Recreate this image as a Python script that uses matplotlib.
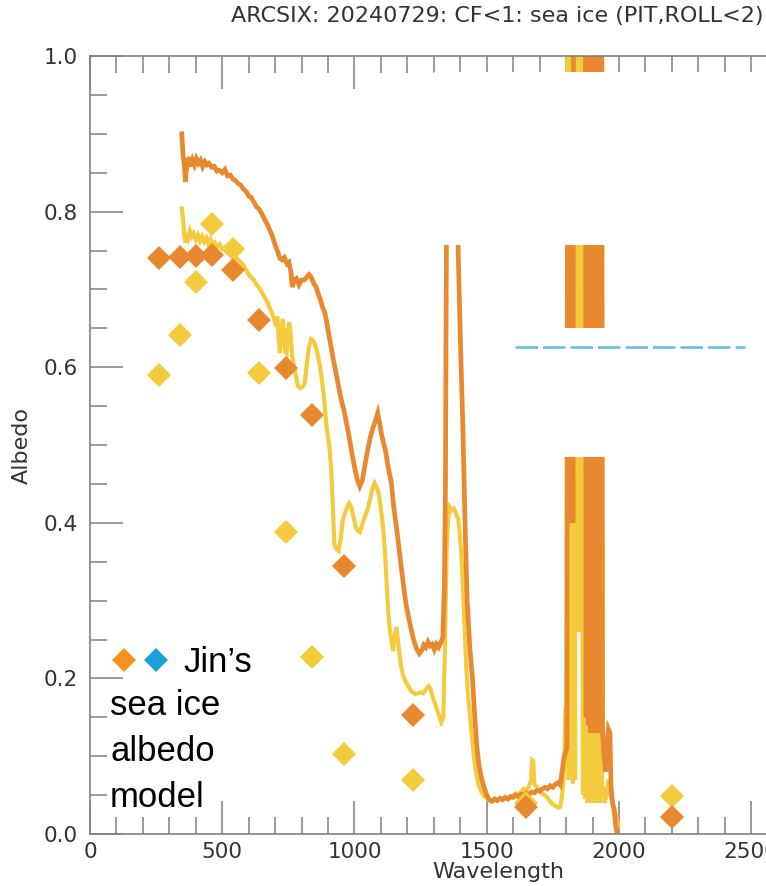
import matplotlib
matplotlib.use("Agg")
import matplotlib.pyplot as plt
from matplotlib.patches import Rectangle
from matplotlib.ticker import MultipleLocator

# ---- measured spectral albedo, upper spectrum ----
wl_upper = [347, 352, 357, 361, 365, 370, 376, 382, 388, 395,
            402, 410, 418, 426, 434, 442, 450, 460, 470, 480,
            490, 500, 510, 520, 530, 540, 550, 560, 570, 580,
            590, 600, 610, 620, 630, 640, 650, 660, 670, 680,
            690, 700, 710, 718, 726, 735, 745, 752, 760, 765,
            772, 780, 790, 800, 810, 820, 828, 836, 845, 855,
            865, 872, 880, 888, 896, 904, 912, 920, 930, 940,
            950, 960, 970, 980, 990, 1000, 1010, 1020, 1030, 1040,
            1050, 1060, 1070, 1080, 1088, 1095, 1102, 1110, 1118, 1125,
            1133, 1140, 1148, 1155, 1162, 1170, 1178, 1186, 1195, 1205,
            1215, 1225, 1235, 1245, 1255, 1262, 1270, 1278, 1286, 1294,
            1302, 1310, 1318, 1326, 1334, 1340, 1344, 1348, 1352, 1360,
            1368, 1378, 1390, 1400, 1410, 1418, 1426, 1436, 1446, 1455,
            1462, 1470, 1480, 1490, 1500, 1510, 1520, 1530, 1540, 1550,
            1560, 1570, 1580, 1590, 1600, 1610, 1620, 1630, 1640, 1650,
            1660, 1670, 1680, 1690, 1700, 1710, 1720, 1730, 1740, 1750,
            1760, 1770, 1778, 1785, 1792, 1798, 1803, 1806, 1810, 1814,
            1818, 1822, 1826, 1830, 1872, 1876, 1880, 1884, 1888, 1892,
            1896, 1900, 1904, 1908, 1912, 1916, 1920, 1924, 1928, 1932,
            1934, 1938, 1944, 1950, 1956, 1960, 1966, 1970, 1976, 1982,
            1988, 1994, 1998]
alb_upper = [0.900, 0.872, 0.858, 0.838, 0.868, 0.862, 0.870, 0.858, 0.866, 0.860,
             0.868, 0.862, 0.866, 0.858, 0.864, 0.860, 0.862, 0.857, 0.858, 0.852,
             0.853, 0.850, 0.854, 0.846, 0.847, 0.842, 0.840, 0.836, 0.834, 0.829,
             0.826, 0.820, 0.818, 0.812, 0.806, 0.803, 0.797, 0.790, 0.784, 0.776,
             0.768, 0.757, 0.748, 0.740, 0.738, 0.741, 0.733, 0.735, 0.722, 0.703,
             0.712, 0.714, 0.706, 0.712, 0.712, 0.716, 0.719, 0.716, 0.708, 0.703,
             0.692, 0.686, 0.676, 0.670, 0.656, 0.640, 0.625, 0.610, 0.593, 0.575,
             0.558, 0.545, 0.528, 0.510, 0.490, 0.472, 0.456, 0.447, 0.455, 0.475,
             0.494, 0.510, 0.522, 0.532, 0.541, 0.528, 0.514, 0.502, 0.492, 0.476,
             0.462, 0.450, 0.422, 0.404, 0.385, 0.362, 0.340, 0.318, 0.295, 0.278,
             0.262, 0.248, 0.238, 0.232, 0.236, 0.243, 0.240, 0.247, 0.242, 0.244,
             0.237, 0.244, 0.240, 0.246, 0.252, 0.320, 0.450, 0.800, 0.950, 0.950,
             0.950, 0.900, 0.780, 0.640, 0.520, 0.400, 0.300, 0.240, 0.200, 0.150,
             0.115, 0.090, 0.072, 0.060, 0.050, 0.044, 0.042, 0.045, 0.043, 0.046,
             0.044, 0.047, 0.045, 0.048, 0.047, 0.050, 0.048, 0.051, 0.050, 0.053,
             0.051, 0.054, 0.053, 0.056, 0.055, 0.058, 0.060, 0.058, 0.062, 0.060,
             0.064, 0.066, 0.063, 0.080, 0.098, 0.105, 0.110, 0.95, 0.40, 0.95,
             0.42, 0.95, 0.40, 1.50, 1.50, 0.15, 1.50, 0.14, 1.50, 0.13,
             1.50, 0.14, 1.50, 0.13, 1.50, 0.14, 1.50, 0.13, 1.50, 0.13,
             1.50, 0.13, 0.10, 0.08, 0.12, 0.135, 0.13, 0.06, 0.04, 0.03,
             0.01, 0.00, -0.02]

# ---- measured spectral albedo, lower spectrum ----
wl_lower = [347, 352, 356, 361, 366, 372, 378, 385, 392, 400,
            408, 416, 424, 432, 440, 448, 456, 464, 472, 480,
            490, 500, 510, 520, 530, 540, 550, 560, 570, 580,
            590, 600, 610, 620, 630, 640, 650, 660, 670, 680,
            690, 698, 704, 708, 713, 718, 724, 729, 734, 738,
            743, 748, 753, 758, 764, 770, 778, 786, 795, 805,
            812, 820, 828, 836, 844, 852, 860, 868, 875, 882,
            888, 894, 900, 906, 912, 918, 924, 932, 940, 948,
            956, 964, 972, 980, 988, 996, 1004, 1012, 1020, 1028,
            1036, 1044, 1052, 1060, 1068, 1076, 1084, 1092, 1100, 1108,
            1115, 1122, 1128, 1134, 1140, 1146, 1152, 1158, 1164, 1170,
            1176, 1182, 1190, 1200, 1210, 1220, 1230, 1240, 1250, 1260,
            1270, 1280, 1288, 1296, 1304, 1312, 1320, 1328, 1336, 1342,
            1348, 1354, 1360, 1368, 1376, 1384, 1392, 1398, 1404, 1410,
            1416, 1422, 1428, 1436, 1444, 1452, 1460, 1470, 1480, 1490,
            1500, 1510, 1520, 1530, 1540, 1550, 1560, 1570, 1580, 1590,
            1600, 1610, 1620, 1630, 1640, 1650, 1660, 1668, 1672, 1676,
            1680, 1690, 1700, 1710, 1720, 1730, 1740, 1750, 1760, 1770,
            1778, 1785, 1792, 1798, 1802, 1806, 1810, 1814, 1818, 1822,
            1826, 1830, 1834, 1838, 1846, 1852, 1864, 1868, 1872, 1876,
            1880, 1884, 1888, 1892, 1896, 1900, 1904, 1908, 1912, 1916,
            1920, 1924, 1928, 1932, 1936, 1940, 1946, 1952, 1960, 1968,
            1976, 1984, 1992, 1998]
alb_lower = [0.804, 0.790, 0.770, 0.760, 0.772, 0.766, 0.775, 0.768, 0.772, 0.764,
             0.770, 0.762, 0.768, 0.761, 0.766, 0.758, 0.764, 0.757, 0.760, 0.754,
             0.758, 0.752, 0.754, 0.748, 0.751, 0.744, 0.742, 0.738, 0.735, 0.731,
             0.725, 0.719, 0.715, 0.712, 0.706, 0.702, 0.696, 0.690, 0.684, 0.676,
             0.668, 0.660, 0.652, 0.665, 0.640, 0.618, 0.648, 0.662, 0.640, 0.620,
             0.618, 0.648, 0.658, 0.645, 0.615, 0.603, 0.590, 0.576, 0.573, 0.575,
             0.580, 0.605, 0.626, 0.636, 0.634, 0.628, 0.618, 0.604, 0.588, 0.570,
             0.550, 0.525, 0.510, 0.495, 0.470, 0.420, 0.372, 0.366, 0.364, 0.380,
             0.404, 0.412, 0.420, 0.425, 0.420, 0.408, 0.396, 0.390, 0.388, 0.396,
             0.405, 0.412, 0.420, 0.432, 0.444, 0.451, 0.446, 0.437, 0.418, 0.395,
             0.365, 0.320, 0.283, 0.262, 0.248, 0.235, 0.252, 0.266, 0.250, 0.232,
             0.216, 0.206, 0.198, 0.192, 0.186, 0.182, 0.180, 0.181, 0.182, 0.181,
             0.186, 0.190, 0.186, 0.176, 0.168, 0.160, 0.152, 0.144, 0.150, 0.240,
             0.360, 0.405, 0.420, 0.416, 0.418, 0.412, 0.405, 0.385, 0.360, 0.320,
             0.270, 0.220, 0.185, 0.155, 0.125, 0.098, 0.078, 0.062, 0.054, 0.049,
             0.046, 0.043, 0.044, 0.045, 0.044, 0.046, 0.045, 0.047, 0.046, 0.048,
             0.049, 0.052, 0.050, 0.054, 0.058, 0.056, 0.062, 0.070, 0.095, 0.094,
             0.064, 0.060, 0.055, 0.052, 0.050, 0.046, 0.042, 0.038, 0.036, 0.034,
             0.035, 0.050, 0.080, 0.160, 0.165, 1.50, 0.07, 1.50, 0.07, 1.50,
             0.065, 1.50, 0.07, 1.50, 0.26, 1.50, 0.05, 1.50, 0.045, 1.50,
             0.04, 1.50, 0.045, 1.50, 0.04, 1.50, 0.05, 1.50, 0.04, 1.50,
             0.05, 1.50, 0.04, 1.50, 0.05, 0.06, 0.04, 0.05, 0.07, 0.05,
             0.04, 0.03, 0.02, 0.01]

# ---- Jin's sea ice albedo model ----
jin_wl = [260, 340, 400, 460, 540, 640, 740, 840, 960, 1220, 1650, 2200]
jin_upper = [0.740, 0.742, 0.743, 0.744, 0.725, 0.661, 0.599, 0.539, 0.344, 0.153, 0.035, 0.022]
jin_lower = [0.590, 0.641, 0.709, 0.784, 0.752, 0.592, 0.388, 0.228, 0.103, 0.069, 0.040, 0.049]

title = "ARCSIX: 20240729: CF<1: sea ice (PIT,ROLL<2)"

ORANGE = "#E8892F"
YELLOW = "#F3CB3C"
GREY = "#808080"
TXT = "#333333"

plt.rcParams["font.family"] = ["DejaVu Sans"]

fig = plt.figure(figsize=(7.66, 8.86), dpi=100)
ax = fig.add_axes([90 / 766, 52 / 886, 676 / 766, 778 / 886])

ax.plot(wl_lower, alb_lower, color=YELLOW, lw=3.0, zorder=2.0, solid_joinstyle="miter")
ax.plot(wl_upper, alb_upper, color=ORANGE, lw=3.4, zorder=2.1, solid_joinstyle="miter")
ax.plot(jin_wl, jin_lower, "D", color=YELLOW, ms=12, mew=0, zorder=2.2)
ax.plot(jin_wl, jin_upper, "D", color=ORANGE, ms=12, mew=0, zorder=2.3)

# blank panels laid over the plot area
ax.add_patch(Rectangle((1300, 0.757), 3000, 0.222, fc="white", ec="none", zorder=2.4))
ax.add_patch(Rectangle((1500, 0.485), 3000, 0.165, fc="white", ec="none", zorder=2.4))
ax.plot([1607, 2476], [0.626, 0.626], color="#5FBDE8", lw=1.8, dashes=(9, 2),
        solid_capstyle="round", zorder=2.45)

ax.set_xlim(0, 2556)
ax.set_ylim(0, 1.0)
ax.xaxis.set_major_locator(MultipleLocator(500))
ax.xaxis.set_minor_locator(MultipleLocator(100))
ax.yaxis.set_major_locator(MultipleLocator(0.2))
ax.yaxis.set_minor_locator(MultipleLocator(0.05))
ax.tick_params(which="both", direction="in", top=True, right=False, color=GREY,
               width=1.1, labelcolor=TXT, labelsize=15.5)
ax.tick_params(which="major", length=23.5)
ax.tick_params(which="minor", length=12)
ax.tick_params(axis="y", pad=8.5)
ax.tick_params(axis="x", pad=5.5)
for side in ("left", "bottom", "top"):
    ax.spines[side].set_color(GREY)
    ax.spines[side].set_linewidth(1.2)
ax.spines["right"].set_visible(False)

ax.set_xlabel("Wavelength", fontsize=16, color=TXT)
ax.set_ylabel("Albedo", fontsize=16, color=TXT)
ax.xaxis.set_label_coords(0.6036, -0.036)
ax.yaxis.set_label_coords(-0.086, 0.5)

fig.text(0.997, 0.982, title, ha="right", va="center", fontsize=16, color=TXT)

# model annotation
ax.plot([0.0510], [0.2237], "D", color="#F7941D", ms=12.5, mew=0,
        transform=ax.transAxes, clip_on=False, zorder=5)
ax.plot([0.0976], [0.2237], "D", color="#1BA1D9", ms=12.5, mew=0,
        transform=ax.transAxes, clip_on=False, zorder=5)
note_kw = dict(transform=ax.transAxes, fontsize=25, color="black", va="baseline",
               ha="left", family=["Liberation Sans", "DejaVu Sans"], zorder=5)
ax.text(0.1376, 0.2082, "Jin\u2019s", **note_kw)
ax.text(0.0296, 0.153, "sea ice", **note_kw)
ax.text(0.0296, 0.0938, "albedo", **note_kw)
ax.text(0.0296, 0.0347, "model", **note_kw)

fig.savefig("out.png", dpi=100)
